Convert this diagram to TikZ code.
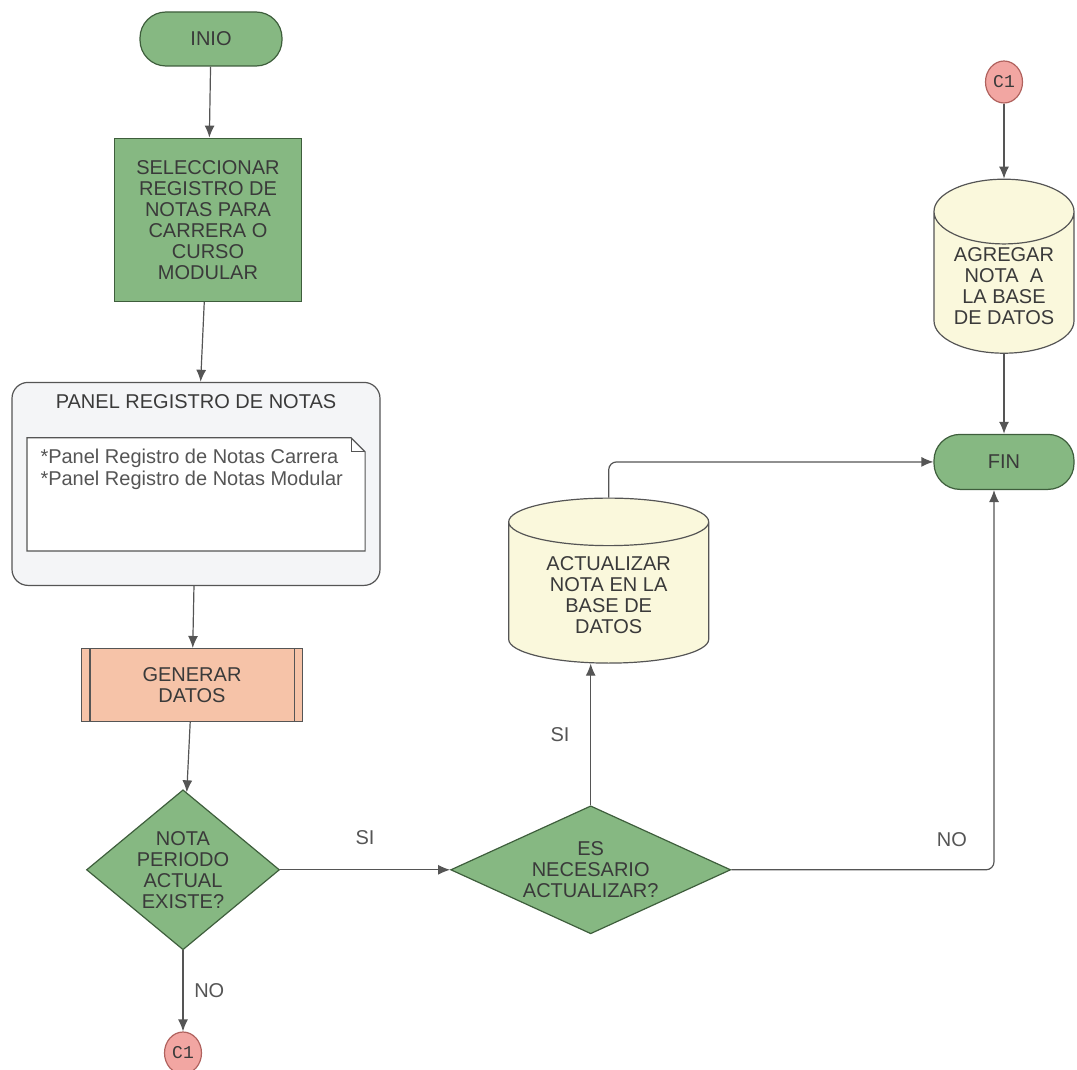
\documentclass[tikz,border=0pt]{standalone}
\usepackage{fontspec}
\setmainfont{Liberation Sans}
\newfontfamily\connfont{Liberation Mono}
\usepackage{tikz}
\usetikzlibrary{arrows.meta,shapes.geometric,positioning}

\definecolor{flowgreen}{HTML}{86B882}
\definecolor{flowgreenline}{HTML}{3E5E3C}
\definecolor{dbyellow}{HTML}{FAF8DC}
\definecolor{procsalmon}{HTML}{F6C3A8}
\definecolor{connpink}{HTML}{F2A6A2}
\definecolor{connline}{HTML}{B0625E}
\definecolor{panelgray}{HTML}{F4F5F7}
\definecolor{edgegray}{HTML}{555555}
\definecolor{textgray}{HTML}{3A3A3A}

\tikzset{
	flowbase/.style={semithick, text=textgray, font=\fontsize{10}{10.5}\selectfont, align=center, inner sep=1pt},
	terminal/.style={flowbase, draw=flowgreenline, fill=flowgreen, rounded corners=13pt, minimum width=71pt, minimum height=27pt},
	process/.style={flowbase, draw=flowgreenline, fill=flowgreen, minimum width=93.5pt, minimum height=81.5pt},
	subprocess/.style={flowbase, draw=edgegray, fill=procsalmon, minimum width=110.5pt, minimum height=36.5pt},
	decision/.style={flowbase, diamond, draw=flowgreenline, fill=flowgreen, inner sep=0pt},
	database/.style={flowbase, cylinder, shape border rotate=90, draw=edgegray, fill=dbyellow},
	connector/.style={flowbase, ellipse, draw=connline, fill=connpink, font=\connfont\fontsize{9}{9}\selectfont, minimum width=18.5pt, minimum height=21pt, inner sep=0pt},
	panelbox/.style={flowbase, draw=edgegray, fill=panelgray, rounded corners=8pt, minimum width=184pt, minimum height=101.5pt},
	notebox/.style={minimum width=168.5pt, minimum height=56pt, inner sep=0pt},
	notetext/.style={flowbase, text=edgegray, font=\fontsize{10}{11}\selectfont, align=left},
	flowlabel/.style={text=edgegray, font=\fontsize{10}{10}\selectfont}
}

\begin{document}
\begin{tikzpicture}[->, >={Latex[length=6pt,width=5pt]}, semithick, draw=edgegray]
		\useasboundingbox (0,0) rectangle (538.5pt,-535pt);
		% left column
		\node[terminal] (inio) at (105.5pt,-19.5pt) {INIO};
		\node[process] (sel) [below=35.5pt of inio, xshift=-1.5pt] {SELECCIONAR\\REGISTRO DE\\NOTAS PARA\\CARRERA O\\CURSO\\MODULAR};
		\node[panelbox] (panel) [below=40pt of sel, xshift=-6pt] {};
		\node[flowbase] (paneltitle) [below=5pt of panel.north] {PANEL REGISTRO DE NOTAS};
		\node[notebox] (notes) [below=28pt of panel.north] {};
		\draw[-, draw=edgegray, fill=white] (notes.north west) -- ([xshift=-7pt]notes.north east) -- ([yshift=-7pt]notes.north east) -- (notes.south east) -- (notes.south west) -- cycle;
		\draw[-, draw=edgegray] ([xshift=-7pt]notes.north east) |- ([yshift=-7pt]notes.north east);
		\node[notetext] (notelines) [below right=4.5pt and 5.5pt of notes.north west] {*Panel Registro de Notas Carrera\\*Panel Registro de Notas Modular};
		\node[subprocess] (gen) [below=31pt of panel, xshift=-2pt] {GENERAR\\DATOS};
		\draw[-, draw=edgegray] ([xshift=4.5pt]gen.north west) -- ([xshift=4.5pt]gen.south west)
			([xshift=-4.5pt]gen.north east) -- ([xshift=-4.5pt]gen.south east);
		\node[decision, aspect=1.2, minimum width=96.5pt, minimum height=80pt] (exists) [below=33.5pt of gen, xshift=-4.5pt] {NOTA\\PERIODO\\ACTUAL\\EXISTE?};
		\node[connector] (c1low) [below=40.5pt of exists] {C1};
		% middle column
		\node[decision, aspect=2.2, minimum width=140pt, minimum height=64pt] (update) [right=85pt of exists] {ES\\NECESARIO\\ACTUALIZAR?};
		\node[database, aspect=0.37, minimum width=100pt, minimum height=82.5pt] (actualizar) [above=70.75pt of update, xshift=9pt] {ACTUALIZAR\\NOTA EN LA\\BASE DE\\DATOS};
		% right column
		\node[connector] (c1high) at (502pt,-41pt) {C1};
		\node[database, aspect=0.62, minimum width=70pt, minimum height=87pt] (agregar) [below=37.5pt of c1high] {AGREGAR\\NOTA\ \ A\\LA BASE\\DE DATOS};
		\node[terminal, minimum width=70pt, minimum height=27.5pt] (fin) [below=40pt of agregar] {FIN};
		\path
			(inio)    edge                                            (sel)
			(sel)     edge                                            (panel)
			(panel)   edge                                            (gen)
			(gen)     edge                                            (exists)
			(exists)  edge node [flowlabel, above=9pt] {SI}           (update)
			(exists)  edge node [flowlabel, right=2pt] {NO}           (c1low)
			(c1high)  edge                                            (agregar)
			(agregar) edge                                            (fin);
		\draw (update.north) -- node [flowlabel, left=7pt] {SI} (update.north |- actualizar.south);
		\draw[rounded corners=4pt] (actualizar.north) |- (fin.west);
		\draw[rounded corners=4pt] (update.east) -| node [flowlabel, pos=0.42, above=8pt] {NO} ([xshift=-5pt]fin.south);
	\end{tikzpicture}
\end{document}
